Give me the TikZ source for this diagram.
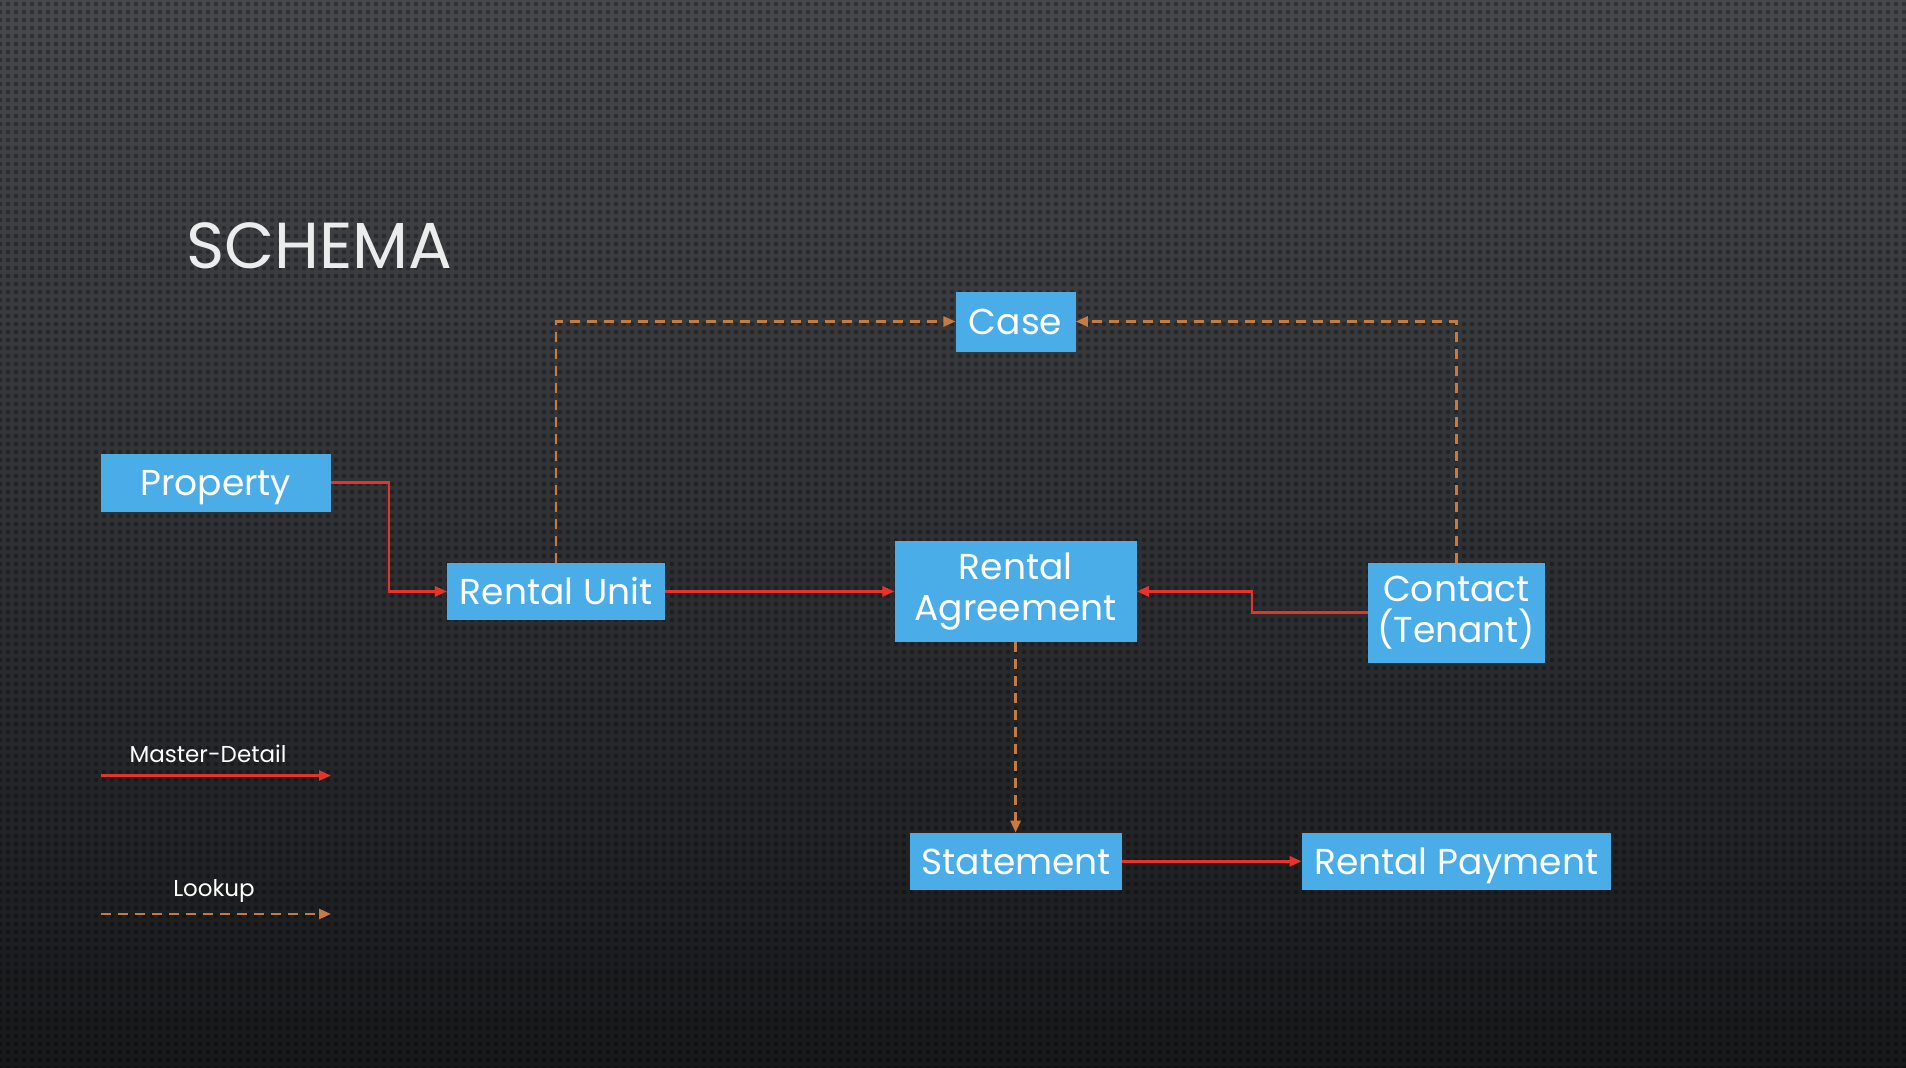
\documentclass[tikz,border=0pt]{standalone}
\usepackage{fontspec}
\setmainfont{Poppins}
\usetikzlibrary{arrows.meta,patterns.meta}

\definecolor{boxblue}{HTML}{4AADE8}
\definecolor{mdred}{HTML}{E8332A}
\definecolor{lkorange}{HTML}{C97A3E}
\definecolor{bgtop}{HTML}{46484C}
\definecolor{bgbottom}{HTML}{17181A}

\tikzset{
	entity/.style={fill=boxblue,text=white,inner sep=0pt,align=center,
		font=\fontsize{36}{41}\selectfont},
	oneline/.style={text height=26pt,text depth=0pt},
	md/.style={draw=mdred,line width=2.6pt,-{Triangle[length=12pt,width=10pt]}},
	lk/.style={draw=lkorange,line width=2.6pt,dash pattern=on 10pt off 7pt,
		-{Triangle[length=12pt,width=10pt]}},
	legendtext/.style={text=white,font=\fontsize{23}{26}\selectfont}
}

\begin{document}
\begin{tikzpicture}[x=1pt,y=-1pt]
		\useasboundingbox (0,0) rectangle (1906,1068);

		% background
		\shade [top color=bgtop,bottom color=bgbottom] (0,0) rectangle (1906,1068);
		\fill [pattern={Dots[distance=8pt,radius=2.3pt]},pattern color=black,fill opacity=0.3] (0,0) rectangle (1906,1068);

		% title
		\node [anchor=base west,text=white!85!gray,font=\fontsize{65}{68}\selectfont,inner sep=0pt] (title) at (186,268) {SCHEMA};

		% entities
		\node [entity,oneline,minimum width=120pt,minimum height=60pt] (case) at (1015.6,321.5) {Case};
		\node [entity,oneline,minimum width=230pt,minimum height=58pt] (prop) at (215.8,482.6) {Property};
		\node [entity,oneline,minimum width=218pt,minimum height=57pt] (ru) at (556.1,591.4) {Rental Unit};
		\node [entity,minimum width=242pt,minimum height=101pt] (ra) at (1015.6,591.4) {Rental\\Agreement};
		\node [entity,minimum width=177pt,minimum height=100pt] (con) at (1456.3,612.7) {Contact\\(Tenant)};
		\node [entity,oneline,minimum width=212pt,minimum height=57pt] (st) at (1016.2,861.3) {Statement};
		\node [entity,oneline,minimum width=309pt,minimum height=57pt] (pay) at (1456.3,861.3) {Rental Payment};

		% master-detail
		\draw [md] (prop.east) -| ([xshift=-58pt]ru.west) -- (ru.west);
		\draw [md] (ru.east) -- (ra.west);
		\draw [md] (con.west) -| ([xshift=115pt]ra.east) -- (ra.east);
		\draw [md] (st.east) -- (pay.west);

		% lookup
		\draw [lk] (ru.north) |- (case.west);
		\draw [lk] (con.north) |- (case.east);
		\draw [lk] (ra.south) -- (ra.south |- st.north);

		% legend
		\node [legendtext] (mdlabel) at (208,754) {Master-Detail};
		\coordinate (mdstart) at (101,775.5);
		\coordinate (mdend) at (331,775.5);
		\draw [md] (mdstart) -- (mdend);

		\node [legendtext] (lklabel) at (214,891) {Lookup};
		\coordinate (lkstart) at (101,914);
		\coordinate (lkend) at (331,914);
		\draw [lk] (lkstart) -- (lkend);
	\end{tikzpicture}
\end{document}
